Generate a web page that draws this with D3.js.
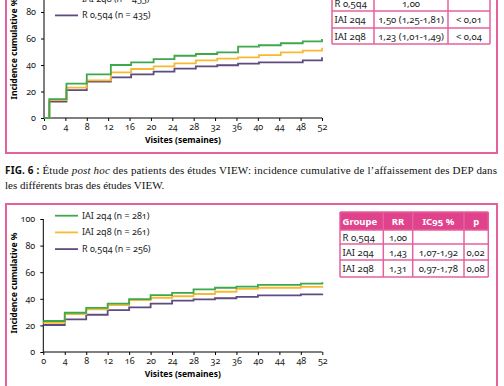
<!DOCTYPE html>
<html>
<head>
<meta charset="utf-8">
<script src="https://cdn.jsdelivr.net/npm/d3@7"></script>
<style>
  body { margin: 0; background: #fff; }
  svg { display: block; }
  .chart text { font-family: "Noto Sans", sans-serif; font-feature-settings: "onum" 1; }
  .chart .caption text { font-family: "Liberation Serif", serif; }
  .chart .caption .fig { font-family: "Noto Sans", sans-serif; }
</style>
</head>
<body>
<script>
// data
let topWeeks = [0, 1, 4.2, 8, 12.5, 16.3, 20.5, 24.4, 28.4, 32.4, 36.3, 40.2, 44.3, 48.4, 52];
let topIai2q4 = [0, 14.3, 26, 33, 40, 42, 44.5, 47, 48.3, 49.6, 53.8, 54.9, 56.4, 57.9, 59.6];
let topIai2q8 = [0, 13.6, 23, 28.4, 34.5, 37, 39, 41.3, 43.5, 44.8, 45.8, 47.5, 49.6, 50.8, 53];
let topR05q4 = [0, 12.3, 21, 27.4, 30.7, 33, 35, 37.2, 39, 39.8, 41, 42, 42, 43.5, 45.8];
let topLegend = ["IAI 2q4 (n = 469)", "IAI 2q8 (n = 455)", "R 0,5q4 (n = 435)"];
let topTable = [
  ["R 0,5q4", "1,00", ""],
  ["IAI 2q4", "1,50 (1,25-1,81)", "< 0,01"],
  ["IAI 2q8", "1,23 (1,01-1,49)", "< 0,04"],
];

let botWeeks = [0, 4, 8, 12, 16, 20, 24, 28, 32, 36, 40, 44, 48, 52];
let botIai2q4 = [23.3, 29.5, 33.2, 36.3, 39.8, 42.8, 44.4, 47.1, 48.3, 49.1, 50.4, 50.4, 51.4, 52.4];
let botIai2q8 = [22, 28.5, 32, 35.3, 39, 40.8, 41.9, 43.6, 45.3, 47.4, 48.3, 48.3, 48.9, 49.6];
let botR05q4 = [20.3, 24.5, 28, 31.5, 33.6, 36.4, 38.6, 39.6, 40.4, 41.4, 42.6, 42.6, 43.4, 43.8];
let botLegend = ["IAI 2q4 (n = 281)", "IAI 2q8 (n = 261)", "R 0,5q4 (n = 256)"];
let botHeader = ["Groupe", "RR", "IC95 %", "p"];
let botTable = [
  ["R 0,5q4", "1,00", "", ""],
  ["IAI 2q4", "1,43", "1,07-1,92", "0,02"],
  ["IAI 2q8", "1,31", "0,97-1,78", "0,08"],
];

let xTicks = d3.range(0, 53, 4);
let yTicks = [0, 20, 40, 60, 80, 100];
let colors = ["#3ea84c", "#f7b932", "#5e4b82"];
let pink = "#e5619e";
let pinkFill = "#e0428c";

let width = 504;
let height = 386;
let svg = d3.select("body").append("svg")
  .attr("width", width)
  .attr("height", height)
  .attr("class", "chart");

// pink frames
svg.append("path")
  .attr("d", "M6,-5V153H497V-5")
  .attr("fill", "none").attr("stroke", pink).attr("stroke-width", 2);
svg.append("path")
  .attr("d", "M6,395V204H497V395")
  .attr("fill", "none").attr("stroke", pink).attr("stroke-width", 2);

let drawChart = (opt) => {
  let x = d3.scaleLinear().domain([0, 52]).range(opt.xRange);
  let y = d3.scaleLinear().domain([0, 100]).range(opt.yRange);
  let g = svg.append("g");

  let xAxis = g.append("g")
    .attr("transform", `translate(0,${y(0)})`)
    .call(d3.axisBottom(x).tickValues(xTicks).tickSize(3).tickPadding(3));
  let yAxis = g.append("g")
    .attr("transform", `translate(${x(0)},0)`)
    .call(d3.axisLeft(y).tickValues(yTicks).tickSize(3).tickPadding(5));
  [xAxis, yAxis].forEach((a) => {
    a.select(".domain").attr("stroke", "#000");
    a.selectAll("line").attr("stroke", "#000");
    a.selectAll("text").attr("font-size", 9).attr("fill", "#222");
  });
  xAxis.select(".domain").attr("d", `M${x(0)},0H${x(52)}`);
  yAxis.select(".domain").attr("d", `M0,${y(0)}V${y(100)}`);

  g.append("text")
    .attr("x", (x(0) + x(52)) / 2)
    .attr("y", y(0) + 25)
    .attr("text-anchor", "middle")
    .attr("font-size", 8.5)
    .attr("font-weight", "bold")
    .text("Visites (semaines)");
  g.append("text")
    .attr("transform", `translate(17,${opt.yLabel}) rotate(-90)`)
    .attr("text-anchor", "middle")
    .attr("font-size", 8.5)
    .attr("font-weight", "bold")
    .text("Incidence cumulative %");

  let line = d3.line()
    .curve(d3.curveStepAfter)
    .x((d) => x(d[0]))
    .y((d) => y(d[1]));
  // draw R first, then 2q8, then 2q4 on top
  [2, 1, 0].forEach((i) => {
    g.append("path")
      .datum(opt.weeks.map((w, j) => [w, opt.series[i][j]]))
      .attr("d", line)
      .attr("fill", "none")
      .attr("stroke", colors[i])
      .attr("stroke-width", 1.8);
  });

  opt.legend.forEach((t, i) => {
    let ly = opt.legendY + i * 16.7;
    g.append("line")
      .attr("x1", 55).attr("x2", 78)
      .attr("y1", ly).attr("y2", ly)
      .attr("stroke", colors[i]).attr("stroke-width", 1.8);
    g.append("text")
      .attr("x", 82).attr("y", ly + 3)
      .attr("font-size", 9)
      .attr("fill", "#222")
      .text(t);
  });
};

drawChart({
  xRange: [44, 322],
  yRange: [118, -14.5],
  yLabel: 49,
  weeks: topWeeks,
  series: [topIai2q4, topIai2q8, topR05q4],
  legend: topLegend,
  legendY: -18,
});

drawChart({
  xRange: [43.3, 322.3],
  yRange: [352, 219],
  yLabel: 283,
  weeks: botWeeks,
  series: [botIai2q4, botIai2q8, botR05q4],
  legend: botLegend,
  legendY: 215.7,
});

// tables
let drawTable = (opt) => {
  let g = svg.append("g");
  let cols = opt.cols;
  let rows = opt.rows;
  if (opt.header) {
    g.append("rect")
      .attr("x", cols[0]).attr("y", rows[0])
      .attr("width", cols[cols.length - 1] - cols[0])
      .attr("height", rows[1] - rows[0])
      .attr("fill", pinkFill);
  }
  // grid
  rows.forEach((ry) => {
    g.append("line")
      .attr("x1", cols[0]).attr("x2", cols[cols.length - 1])
      .attr("y1", ry).attr("y2", ry)
      .attr("stroke", pink).attr("stroke-width", 1.5);
  });
  cols.forEach((cx) => {
    g.append("line")
      .attr("x1", cx).attr("x2", cx)
      .attr("y1", rows[0]).attr("y2", rows[rows.length - 1])
      .attr("stroke", pink).attr("stroke-width", 1.5);
  });
  let cells = opt.header ? [opt.header].concat(opt.data) : opt.data;
  cells.forEach((r, ri) => {
    r.forEach((t, ci) => {
      let mid = (rows[ri] + rows[ri + 1]) / 2;
      let anchor = opt.anchor[ci];
      let tx = anchor == "start" ? cols[ci] + 2.5 : (cols[ci] + cols[ci + 1]) / 2;
      let head = opt.header && ri == 0;
      g.append("text")
        .attr("x", head && ci > 0 ? (cols[ci] + cols[ci + 1]) / 2 : tx)
        .attr("y", mid + 3.5)
        .attr("text-anchor", head && ci > 0 ? "middle" : anchor)
        .attr("font-size", 9.5)
        .attr("font-weight", head ? "bold" : "normal")
        .attr("fill", head ? "#fff" : "#222")
        .text(t);
    });
  });
};

drawTable({
  cols: [332, 374, 448, 490],
  rows: [-5, 11, 28, 44],
  data: topTable,
  anchor: ["start", "middle", "middle"],
});

drawTable({
  cols: [340, 383.3, 412.7, 464, 488.3],
  rows: [212, 230, 244, 260, 277],
  header: botHeader,
  data: botTable,
  anchor: ["start", "middle", "middle", "start"],
});

// caption
let cap = svg.append("g").attr("class", "caption");
let l1 = cap.append("text")
  .attr("x", 5).attr("y", 174)
  .attr("font-size", 11)
  .attr("fill", "#111")
  .attr("textLength", 492)
  .attr("lengthAdjust", "spacing");
l1.append("tspan").attr("class", "fig").attr("font-weight", "bold").attr("font-size", 10).text("FIG. 6 :");
l1.append("tspan").text(" Étude ");
l1.append("tspan").attr("font-style", "italic").text("post hoc");
l1.append("tspan").text(" des patients des études VIEW: incidence cumulative de l’affaissement des DEP dans");
cap.append("text")
  .attr("x", 5).attr("y", 189)
  .attr("font-size", 11)
  .attr("fill", "#111")
  .text("les différents bras des études VIEW.");
</script>
</body>
</html>
